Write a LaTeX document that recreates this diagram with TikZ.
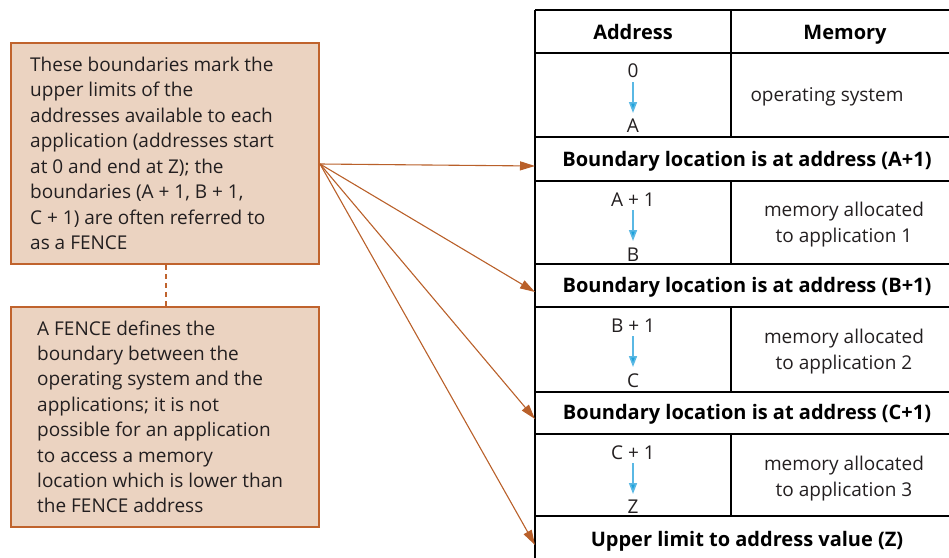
\documentclass[tikz,border=0pt]{standalone}
\usepackage{fontspec}
\setmainfont{Open Sans}
\usetikzlibrary{arrows.meta}
\definecolor{boxfill}{HTML}{EBD3C1}
\definecolor{boxline}{HTML}{C0632D}
\definecolor{arrowc}{HTML}{B9602A}
\definecolor{bluea}{HTML}{1DA3DC}
\definecolor{bluel}{HTML}{5AB8E4}
\definecolor{txt}{HTML}{231F20}
\tikzset{
  note/.style={draw=boxline, line width=2.2pt, fill=boxfill},
  line/.style={anchor=base west, font=\fontsize{19}{25}\selectfont, text=txt, inner sep=0pt},
  cell/.style={anchor=base, font=\fontsize{19}{25}\selectfont, text=txt, inner sep=0pt},
  boldtext/.style={anchor=base, font=\fontsize{20}{24}\selectfont\bfseries, text=black, inner sep=0pt},
  grid/.style={draw=black, line width=1.2pt},
  ptr/.style={draw=arrowc, line width=1.1pt, -{Triangle[length=15pt,width=9pt,fill=arrowc]}},
  down/.style={draw=bluel, line width=1.6pt, -{Triangle[length=11pt,width=8pt,fill=bluea]}}
}
\begin{document}
\begin{tikzpicture}[x=1pt,y=-1pt]
\useasboundingbox (0,0) rectangle (949,557);
\begin{scope}
\clip (0,0) rectangle (949,557);
\draw[grid] (535,10) -- (960,10);
\draw[grid] (535,10) -- (535,560);
\foreach \yy in {53,137,181,264,307,392,434,516} \draw[grid] (535,\yy) -- (960,\yy);
\draw[grid] (731,10) -- (731,137);
\draw[grid] (731,181) -- (731,264);
\draw[grid] (731,307) -- (731,392);
\draw[grid] (731,434) -- (731,516);
\end{scope}
% headers
\node[boldtext] (hA) at (633,39) {Address};
\node[boldtext] (hM) at (845,39) {Memory};
% row 1
\node[cell] (r1a) at (633,77) {0};
\node[cell] (r1b) at (633,132) {A};
\draw[down] (633,82) -- (633,113);
\node[cell] (r1m) at (827,101) {operating system};
\node[boldtext] (b1) at (747,166) {Boundary location is at address (A+1)};
% row 2
\node[cell] (r2a) at (633,206) {A + 1};
\node[cell] (r2b) at (633,261) {B};
\draw[down] (633,210) -- (633,241);
\node[cell] (r2m1) at (844,216) {memory allocated};
\node[cell] (r2m2) at (844,242) {to application 1};
\node[boldtext] (b2) at (747,292) {Boundary location is at address (B+1)};
% row 3
\node[cell] (r3a) at (633,332) {B + 1};
\node[cell] (r3b) at (633,387) {C};
\draw[down] (633,336) -- (633,367);
\node[cell] (r3m1) at (844,343) {memory allocated};
\node[cell] (r3m2) at (844,369) {to application 2};
\node[boldtext] (b3) at (747,419) {Boundary location is at address (C+1)};
% row 4
\node[cell] (r4a) at (633,459) {C + 1};
\node[cell] (r4b) at (633,513) {Z};
\draw[down] (633,463) -- (633,494);
\node[cell] (r4m1) at (844,470) {memory allocated};
\node[cell] (r4m2) at (844,496) {to application 3};
\node[boldtext] (b4) at (747,546) {Upper limit to address value (Z)};
% notes
\draw[note] (11,43) rectangle (319,264);
\foreach \t [count=\i] in {These boundaries mark the,upper limits of the,addresses available to each,application (addresses start,at 0 and end at Z); the,{boundaries (A + 1, B + 1,},C + 1) are often referred to,as a FENCE}
  \node[line] (n1l\i) at (30,{71+25.5*(\i-1)}) {\t};
\draw[note] (11,307) rectangle (319,527);
\foreach \t [count=\i] in {A FENCE defines the,boundary between the,operating system and the,applications; it is not,possible for an application,to access a memory,location which is lower than,the FENCE address}
  \node[line] (n2l\i) at (37,{335+25.4*(\i-1)}) {\t};
\draw[boxline, line width=2.2pt, dash pattern=on 5pt off 4pt] (166,265) -- (166,306);
% pointers
\coordinate (src) at (320,164);
\coordinate (t1) at (535,166);
\coordinate (t2) at (535,292);
\coordinate (t3) at (535,419);
\coordinate (t4) at (535,545);
\draw[ptr] (src) -- (t1);
\draw[ptr] (src) -- (t2);
\draw[ptr] (src) -- (t3);
\draw[ptr] (src) -- (t4);
\end{tikzpicture}
\end{document}
